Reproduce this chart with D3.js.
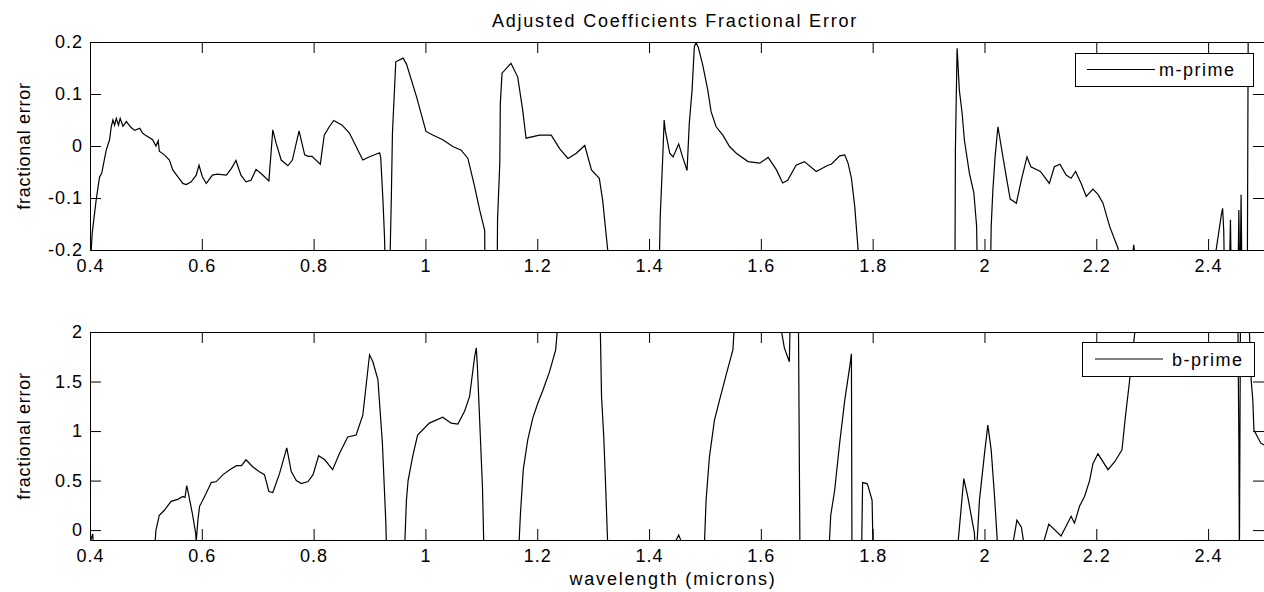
<!DOCTYPE html>
<html>
<head>
<meta charset="utf-8">
<script src="https://cdn.jsdelivr.net/npm/d3@7"></script>
<style>
body { margin: 0; background: #fff; }
svg { display: block; font-family: "Liberation Sans", Arial, sans-serif; }
</style>
</head>
<body>
<svg id="svg" width="1264" height="592"></svg>
<script>

// values; points outside the y limits are clipped like in matlab
var mWave = [0.400, 0.401, 0.404, 0.411, 0.417, 0.421, 0.429, 0.435, 0.438, 0.441, 0.444, 0.447, 0.451, 0.454, 0.459,
    0.465, 0.474, 0.480, 0.489, 0.494, 0.500, 0.512, 0.518, 0.522, 0.524, 0.533, 0.542, 0.548, 0.557, 0.566,
    0.572, 0.581, 0.590, 0.595, 0.601, 0.608, 0.619, 0.627, 0.644, 0.653, 0.661, 0.670, 0.679, 0.688, 0.697,
    0.706, 0.720, 0.727, 0.733, 0.742, 0.754, 0.762, 0.774, 0.784, 0.790, 0.797, 0.812, 0.819, 0.828, 0.836,
    0.851, 0.864, 0.876, 0.888, 0.897, 0.918, 0.920, 0.924, 0.927, 0.929, 0.935, 0.939, 0.941, 0.945, 0.947,
    0.960, 0.966, 0.984, 1.001, 1.013, 1.031, 1.049, 1.064, 1.076, 1.088, 1.097, 1.106, 1.107, 1.128, 1.129,
    1.133, 1.134, 1.137, 1.153, 1.165, 1.174, 1.180, 1.204, 1.225, 1.240, 1.255, 1.270, 1.285, 1.297, 1.311,
    1.317, 1.327, 1.330, 1.417, 1.420, 1.425, 1.427, 1.429, 1.437, 1.443, 1.453, 1.460, 1.468, 1.472, 1.477,
    1.481, 1.484, 1.488, 1.496, 1.505, 1.511, 1.520, 1.532, 1.544, 1.556, 1.577, 1.598, 1.613, 1.628, 1.639,
    1.648, 1.663, 1.678, 1.699, 1.720, 1.726, 1.741, 1.750, 1.756, 1.762, 1.768, 1.774, 1.776, 1.947, 1.948,
    1.951, 1.952, 1.955, 1.960, 1.964, 1.973, 1.981, 1.986, 1.988, 2.010, 2.012, 2.015, 2.019, 2.024, 2.026,
    2.033, 2.039, 2.046, 2.057, 2.066, 2.076, 2.083, 2.100, 2.116, 2.125, 2.135, 2.146, 2.155, 2.163, 2.173,
    2.182, 2.194, 2.203, 2.212, 2.224, 2.239, 2.242, 2.264, 2.267, 2.270, 2.412, 2.413, 2.424, 2.426, 2.428,
    2.430, 2.438, 2.440, 2.442, 2.453, 2.455, 2.457, 2.459, 2.461, 2.470, 2.471, 2.472, 2.500];
var mErr = [-0.300, -0.220, -0.167, -0.104, -0.060, -0.052, -0.008, 0.012, 0.037, 0.050, 0.040, 0.053, 0.040, 0.053, 0.038,
    0.047, 0.035, 0.030, 0.034, 0.025, 0.020, 0.012, 0.000, 0.010, -0.010, -0.017, -0.027, -0.046, -0.059, -0.072,
    -0.074, -0.069, -0.056, -0.037, -0.059, -0.072, -0.056, -0.054, -0.056, -0.043, -0.028, -0.056, -0.069, -0.066, -0.045,
    -0.053, -0.067, 0.031, 0.005, -0.027, -0.038, -0.027, 0.029, -0.017, -0.020, -0.020, -0.035, 0.021, 0.037, 0.049,
    0.040, 0.025, -0.001, -0.027, -0.022, -0.013, -0.022, -0.104, -0.180, -0.300, -0.300, -0.100, 0.025, 0.117, 0.162,
    0.169, 0.158, 0.095, 0.028, 0.021, 0.012, -0.001, -0.008, -0.024, -0.078, -0.123, -0.162, -0.300, -0.300, -0.142,
    -0.033, 0.082, 0.140, 0.159, 0.133, 0.069, 0.015, 0.021, 0.021, -0.005, -0.024, -0.014, 0.001, -0.046, -0.062,
    -0.104, -0.210, -0.300, -0.300, -0.136, -0.008, 0.050, 0.030, -0.014, -0.021, 0.004, -0.021, -0.047, 0.044, 0.108,
    0.191, 0.199, 0.190, 0.156, 0.108, 0.066, 0.037, 0.021, -0.001, -0.014, -0.030, -0.033, -0.022, -0.046, -0.071,
    -0.066, -0.037, -0.030, -0.049, -0.037, -0.035, -0.019, -0.017, -0.033, -0.062, -0.117, -0.200, -0.300, -0.300, -0.008,
    0.188, 0.170, 0.108, 0.063, 0.012, -0.052, -0.090, -0.155, -0.300, -0.300, -0.155, -0.085, -0.021, 0.037, 0.025,
    -0.021, -0.059, -0.102, -0.110, -0.065, -0.021, -0.040, -0.049, -0.072, -0.040, -0.035, -0.056, -0.062, -0.049, -0.072,
    -0.097, -0.083, -0.093, -0.110, -0.155, -0.197, -0.300, -0.220, -0.190, -0.220, -0.300, -0.210, -0.130, -0.120, -0.163,
    -0.300, -0.250, -0.142, -0.300, -0.300, -0.123, -0.300, -0.094, -0.300, -0.300, 0.000, 0.300, 0.300];

var bWave = [0.400, 0.402, 0.405, 0.407, 0.514, 0.518, 0.524, 0.533, 0.545, 0.557, 0.566, 0.570, 0.573, 0.576, 0.583,
    0.589, 0.590, 0.593, 0.596, 0.605, 0.617, 0.626, 0.638, 0.650, 0.662, 0.671, 0.679, 0.691, 0.703, 0.712,
    0.720, 0.727, 0.739, 0.752, 0.760, 0.769, 0.778, 0.790, 0.799, 0.809, 0.820, 0.834, 0.846, 0.861, 0.876,
    0.888, 0.900, 0.906, 0.915, 0.923, 0.929, 0.931, 0.962, 0.966, 0.969, 0.977, 0.986, 1.007, 1.031, 1.046,
    1.058, 1.070, 1.079, 1.088, 1.091, 1.093, 1.097, 1.102, 1.105, 1.166, 1.170, 1.175, 1.183, 1.192, 1.201,
    1.210, 1.222, 1.233, 1.240, 1.312, 1.315, 1.319, 1.322, 1.327, 1.447, 1.453, 1.458, 1.498, 1.502, 1.508,
    1.517, 1.526, 1.538, 1.550, 1.555, 1.628, 1.642, 1.651, 1.653, 1.667, 1.670, 1.721, 1.725, 1.732, 1.741,
    1.750, 1.759, 1.762, 1.763, 1.780, 1.782, 1.790, 1.792, 1.799, 1.801, 1.950, 1.963, 1.970, 1.982, 1.984,
    1.985, 1.991, 2.000, 2.006, 2.012, 2.018, 2.025, 2.046, 2.058, 2.066, 2.075, 2.097, 2.115, 2.137, 2.155,
    2.161, 2.170, 2.179, 2.188, 2.194, 2.203, 2.221, 2.233, 2.246, 2.252, 2.259, 2.266, 2.275, 2.453, 2.455,
    2.456, 2.458, 2.472, 2.477, 2.480, 2.482, 2.494, 2.500];
var bErr = [-0.06, -0.09, -0.04, -0.30, -0.30, 0.00, 0.15, 0.20, 0.29, 0.31, 0.34, 0.33, 0.45, 0.37, 0.17,
    -0.03, -0.12, 0.10, 0.24, 0.34, 0.48, 0.49, 0.56, 0.61, 0.65, 0.65, 0.71, 0.64, 0.59, 0.56,
    0.39, 0.38, 0.57, 0.83, 0.59, 0.50, 0.47, 0.49, 0.56, 0.75, 0.71, 0.61, 0.77, 0.94, 0.96,
    1.16, 1.77, 1.70, 1.52, 0.88, 0.10, -0.30, -0.30, 0.30, 0.50, 0.74, 0.96, 1.08, 1.14, 1.08,
    1.07, 1.20, 1.35, 1.75, 1.84, 1.65, 1.11, 0.44, -0.30, -0.30, 0.17, 0.61, 0.91, 1.13, 1.28,
    1.41, 1.60, 1.82, 2.30, 2.30, 1.35, 0.94, 0.50, -0.30, -0.12, -0.05, -0.12, -0.30, 0.30, 0.74,
    1.11, 1.31, 1.57, 1.82, 2.30, 2.30, 1.84, 1.70, 2.30, 2.30, -0.30, -0.30, 0.15, 0.40, 0.88,
    1.31, 1.65, 1.78, -0.30, -0.30, 0.48, 0.47, 0.44, 0.30, -0.30, -0.30, 0.52, 0.34, -0.03, -0.30,
    -0.30, 0.30, 0.77, 1.06, 0.81, 0.34, -0.30, -0.30, 0.10, 0.03, -0.30, -0.30, 0.06, -0.06, 0.14,
    0.07, 0.24, 0.34, 0.50, 0.67, 0.77, 0.61, 0.69, 0.81, 1.14, 1.48, 1.85, 2.30, 2.30, 0.94,
    -0.30, 2.30, 2.30, 1.52, 1.31, 1.01, 0.88, 0.86];

var waveTicks = [0.4, 0.6, 0.8, 1, 1.2, 1.4, 1.6, 1.8, 2, 2.2, 2.4];
var mTicks = [-0.2, -0.1, 0, 0.1, 0.2];
var bTicks = [0, 0.5, 1, 1.5, 2];

var svg = d3.select("#svg");
var tickLen = 11;

var xScale = d3.scaleLinear()
    .domain([0.4, 2.5])
    .range([90, 1264]);

var drawPanel = function (id, top, bottom, yDomain, yTicks, wave, err, name, legendBox) {

    var yScale = d3.scaleLinear()
        .domain(yDomain)
        .range([bottom, top]);

    svg.append("clipPath")
        .attr("id", "clip-" + id)
        .append("rect")
        .attr("x", xScale.range()[0])
        .attr("y", top)
        .attr("width", xScale.range()[1] - xScale.range()[0])
        .attr("height", bottom - top);

    // matlab style box, ticks pointing in on every side
    var xAxis = svg.append("g")
        .attr("transform", "translate(0," + bottom + ")")
        .call(d3.axisBottom(xScale).tickValues(waveTicks).tickFormat(String)
            .tickSizeInner(-tickLen).tickSizeOuter(0).tickPadding(9));
    svg.append("g")
        .attr("transform", "translate(0," + top + ")")
        .call(d3.axisTop(xScale).tickValues(waveTicks).tickFormat("")
            .tickSizeInner(-tickLen).tickSizeOuter(0));
    var yAxis = svg.append("g")
        .attr("transform", "translate(" + xScale.range()[0] + ",0)")
        .call(d3.axisLeft(yScale).tickValues(yTicks).tickFormat(String)
            .tickSizeInner(-tickLen).tickSizeOuter(0).tickPadding(7));
    svg.append("g")
        .attr("transform", "translate(" + xScale.range()[1] + ",0)")
        .call(d3.axisRight(yScale).tickValues(yTicks).tickFormat("")
            .tickSizeInner(-tickLen).tickSizeOuter(0));

    svg.selectAll(".tick text")
        .attr("fill", "#000")
        .style("font-size", "18px")
        .style("letter-spacing", "1px");
    svg.selectAll(".domain, .tick line").attr("stroke", "#000");

    var line = d3.line()
        .x(function (d, i) { return xScale(wave[i]); })
        .y(function (d) { return yScale(d); });

    svg.append("path")
        .datum(err)
        .attr("clip-path", "url(#clip-" + id + ")")
        .attr("fill", "none")
        .attr("stroke", "#000")
        .attr("stroke-width", 1.2)
        .attr("d", line);

    svg.append("text")
        .attr("transform", "translate(30," + ((top + bottom) / 2) + ") rotate(-90)")
        .attr("text-anchor", "middle")
        .style("font-size", "18px")
        .style("letter-spacing", "0.7px")
        .text("fractional error");

    // legend
    var lg = svg.append("g");
    lg.append("rect")
        .attr("x", legendBox.x + 0.5)
        .attr("y", legendBox.y + 0.5)
        .attr("width", legendBox.w)
        .attr("height", legendBox.h)
        .attr("fill", "#fff")
        .attr("stroke", "#000");
    lg.append("line")
        .attr("x1", legendBox.x + legendBox.l0)
        .attr("x2", legendBox.x + legendBox.l1)
        .attr("y1", legendBox.y + legendBox.h / 2)
        .attr("y2", legendBox.y + legendBox.h / 2)
        .attr("stroke", "#000");
    lg.append("text")
        .attr("x", legendBox.x + legendBox.tx)
        .attr("y", legendBox.y + legendBox.h / 2 + 6.5)
        .style("font-size", "18px")
        .style("letter-spacing", "1.5px")
        .text(name);
};

drawPanel("m", 42, 250, [-0.2, 0.2], mTicks, mWave, mErr, "m-prime",
    {x: 1075, y: 53, w: 178, h: 33, l0: 12, l1: 80, tx: 84});
drawPanel("b", 332, 540, [-0.1, 2], bTicks, bWave, bErr, "b-prime",
    {x: 1082, y: 342, w: 172, h: 34, l0: 13, l1: 81, tx: 90});

svg.append("text")
    .attr("x", 675)
    .attr("y", 27)
    .attr("text-anchor", "middle")
    .style("font-size", "18px")
    .style("letter-spacing", "1.8px")
    .text("Adjusted Coefficients Fractional Error");

svg.append("text")
    .attr("x", 673)
    .attr("y", 585)
    .attr("text-anchor", "middle")
    .style("font-size", "18px")
    .style("letter-spacing", "1.8px")
    .text("wavelength (microns)");

</script>
</body>
</html>
